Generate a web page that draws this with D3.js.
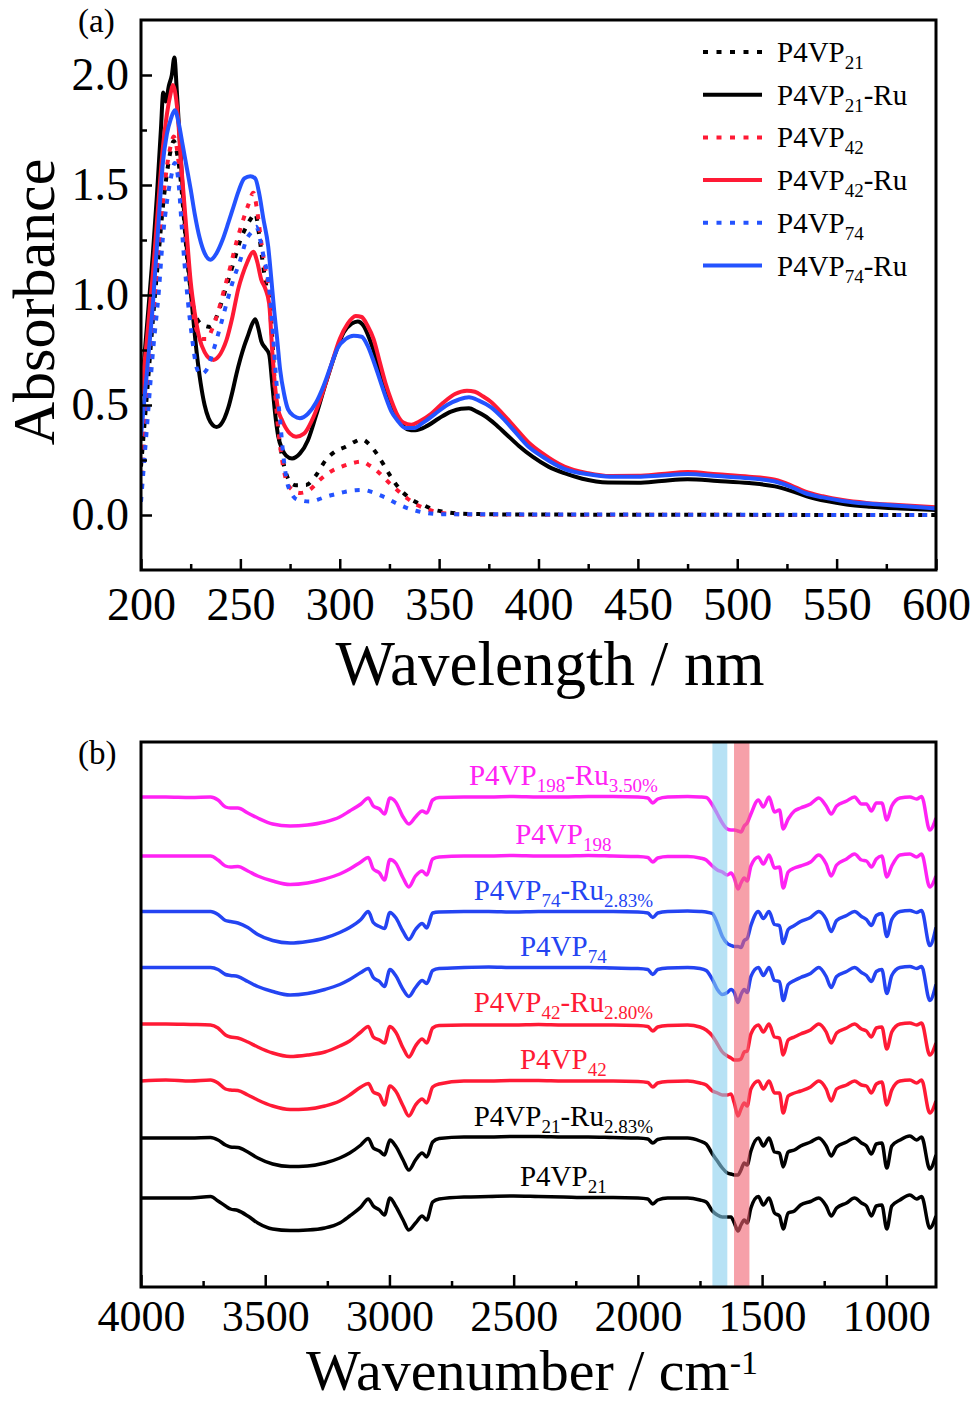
<!DOCTYPE html>
<html>
<head>
<meta charset="utf-8">
<script src="https://cdn.jsdelivr.net/npm/d3@7"></script>
<style>
    body { margin: 0; background: #fff; }
    svg { display: block; }
</style>
</head>
<body>
<svg id="chart" width="973" height="1404"></svg>
<script>

//  (a) UV-vis spectra, [wavelength / nm, absorbance]

const uvP4VP21 = [[200,0.22],[203,0.55],[206,0.89],[209,1.2],[211,1.4],[213,1.55],[215,1.66],[216.5,1.70],[218,1.65],[220,1.52],
    [221.5,1.36],[223,1.19],[225,1.02],[227,0.92],[229,0.88],[232,0.86],[235,0.855],[238,0.9],[241,0.98],[244,1.07],[247,1.16],
    [250,1.25],[253,1.31],[255.5,1.35],[257.5,1.37],[259.5,1.27],[261.5,1.13],[263.5,1.02],[265,0.96],[266.5,0.72],[268.5,0.43],
    [270.5,0.29],[272.5,0.205],[275,0.15],[278,0.135],[283,0.136],[288,0.18],[293,0.25],[298,0.29],[303,0.31],[308,0.335],
    [311,0.344],[315,0.32],[318.5,0.28],[322,0.23],[326,0.17],[330,0.12],[334,0.085],[338,0.06],[342,0.045],[347,0.025],
    [352,0.015],[358,0.008],[370,0.004],[400,0.002],[600,0]];

const uvP4VP21Ru = [[200,0.54],[203,0.86],[206,1.19],[208,1.45],[210,1.75],[211.2,1.92],[212.5,1.88],[214,1.95],[215.5,2.0],
    [216.8,2.08],[218,1.93],[219,1.78],[220.5,1.55],[222,1.33],[224,1.12],[226,0.92],[228,0.74],[230,0.6],[232,0.5],[234,0.44],
    [236,0.41],[238,0.40],[240,0.41],[242,0.44],[244,0.49],[246,0.56],[248,0.64],[250,0.71],[252,0.77],[254,0.82],[256,0.87],
    [257.5,0.89],[259,0.85],[260.5,0.79],[262.5,0.76],[264.5,0.73],[266,0.6],[267.5,0.46],[269,0.36],[271,0.30],[273,0.27],
    [276,0.257],[280,0.28],[284,0.34],[288,0.45],[293,0.60],[298,0.74],[302,0.83],[306,0.87],[309,0.88],[312,0.86],[315,0.8],
    [318,0.72],[321,0.63],[324,0.55],[327,0.48],[330,0.43],[334,0.39],[338,0.385],[344,0.405],[350,0.44],[356,0.47],
    [361,0.483],[365,0.485],[369,0.47],[373,0.45],[378,0.415],[384,0.365],[390,0.315],[397,0.265],[405,0.22],[413,0.19],
    [422,0.165],[435,0.148],[450,0.147],[462,0.155],[475,0.163],[490,0.155],[506,0.145],[519,0.13],[527,0.11],[535,0.085],
    [545,0.063],[555,0.048],[567,0.038],[582,0.03],[600,0.023]];

const uvP4VP42 = [[200,0.12],[203,0.5],[206,0.88],[209,1.22],[211,1.42],[213,1.58],[215,1.68],[216.5,1.72],[218,1.67],[220,1.5],
    [222,1.28],[224,1.08],[226,0.93],[228,0.84],[231,0.80],[233,0.80],[236,0.85],[239,0.93],[242,1.03],[245,1.13],[248,1.24],
    [251,1.33],[254,1.41],[256.5,1.465],[258.5,1.38],[260.5,1.24],[262.5,1.12],[264,1.04],[265.5,0.86],[267,0.62],[268.5,0.44],
    [270.5,0.28],[273,0.16],[276,0.115],[280,0.10],[285,0.115],[290,0.16],[296,0.2],[301,0.22],[306,0.235],[311,0.243],
    [315,0.225],[320,0.19],[325,0.145],[330,0.105],[334,0.075],[338,0.05],[343,0.03],[348,0.015],[355,0.006],[370,0.002],[600,0]];

const uvP4VP42Ru = [[200,0.55],[203,0.8],[206,1.10],[209,1.45],[211,1.67],[213,1.82],[215,1.92],[216,1.955],[217,1.93],
    [218.5,1.82],[220,1.62],[221.5,1.45],[223,1.28],[225,1.06],[227,0.92],[229.5,0.80],[232,0.74],[234,0.715],[236.5,0.705],
    [239,0.72],[241,0.75],[243,0.795],[246,0.90],[249,1.03],[251,1.09],[253.5,1.15],[256.5,1.197],[258.5,1.15],[260.5,1.07],
    [262.5,1.03],[264.5,0.96],[266,0.75],[267.5,0.58],[269,0.48],[271,0.43],[275,0.37],[278,0.356],[282,0.37],[286,0.43],
    [290,0.52],[295,0.66],[300,0.80],[304,0.87],[308,0.905],[311,0.90],[314,0.86],[317,0.80],[320,0.70],[323,0.60],[326,0.52],
    [329,0.455],[332,0.42],[336,0.41],[340,0.425],[346,0.46],[352,0.51],[358,0.55],[364,0.565],[368,0.56],[372,0.54],
    [376,0.515],[382,0.46],[388,0.40],[395,0.33],[402,0.28],[413,0.22],[425,0.19],[436,0.177],[450,0.178],[462,0.186],
    [475,0.195],[490,0.185],[506,0.174],[519,0.16],[527,0.135],[534,0.107],[543,0.085],[553,0.068],[565,0.055],[581,0.045],
    [600,0.035]];

const uvP4VP74 = [[200,0.06],[203,0.40],[206,0.74],[209,1.02],[211,1.26],[213,1.42],[215,1.53],[217,1.60],[219,1.50],
    [220.5,1.31],[222,1.13],[223.5,0.98],[225.5,0.82],[228,0.67],[230,0.64],[233,0.66],[236.5,0.75],[240,0.86],[243,0.96],
    [246.5,1.07],[250,1.16],[253,1.25],[256,1.29],[258,1.31],[260,1.25],[262,1.16],[263.5,1.10],[265,0.98],[266.5,0.81],
    [268,0.62],[270,0.43],[271.5,0.28],[273.5,0.15],[275.5,0.1],[277.5,0.076],[281,0.065],[285,0.061],[289,0.07],[293,0.083],
    [298,0.095],[303,0.106],[308,0.113],[312,0.114],[316,0.105],[320,0.091],[324,0.075],[328.5,0.053],[333,0.035],[338,0.02],
    [343,0.01],[350,0.004],[600,0]];

const uvP4VP74Ru = [[200,0.36],[203,0.65],[206,0.96],[209,1.35],[211,1.6],[213,1.73],[215,1.80],[217,1.84],[219,1.78],
    [221,1.68],[223,1.58],[225,1.48],[227,1.37],[229.5,1.26],[232,1.19],[235,1.16],[238,1.19],[241,1.25],[244,1.33],
    [246.5,1.40],[249,1.47],[252,1.53],[255,1.54],[257.5,1.53],[259.5,1.46],[261.5,1.35],[264,1.22],[265.5,1.08],[267,0.93],
    [268.5,0.80],[270,0.66],[272,0.55],[274,0.48],[277,0.45],[280,0.44],[284,0.46],[288,0.51],[292,0.59],[296,0.69],
    [299,0.76],[303,0.80],[307,0.815],[311,0.81],[314,0.77],[317,0.70],[320,0.62],[323,0.54],[326,0.47],[329,0.43],
    [333,0.395],[337,0.395],[342,0.42],[348,0.46],[354,0.50],[360,0.525],[365,0.535],[370,0.52],[376,0.49],[382,0.44],
    [388,0.38],[395,0.31],[402,0.265],[413,0.21],[425,0.185],[436,0.174],[450,0.174],[462,0.18],[475,0.186],[490,0.177],
    [506,0.167],[519,0.152],[527,0.128],[534,0.10],[543,0.08],[553,0.064],[565,0.052],[581,0.042],[600,0.03]];

const uvSeries = [uvP4VP21, uvP4VP21Ru, uvP4VP42, uvP4VP42Ru, uvP4VP74, uvP4VP74Ru];
const uvNames = ["P4VP|21", "P4VP|21|-Ru", "P4VP|42", "P4VP|42|-Ru", "P4VP|74", "P4VP|74|-Ru"];
const uvTicks = [200, 250, 300, 350, 400, 450, 500, 550, 600];
const uvMinorTicks = [225, 275, 325, 375, 425, 475, 525, 575];
const absTicks = [0, 0.5, 1.0, 1.5, 2.0];
const absMinorTicks = [0.25, 0.75, 1.25, 1.75];

//  (b) FTIR spectra: shared wavenumber grid / cm-1, and each trace's
//  absorption depth (a.u.) below its own stacking offset

const irWavenumbers = [
    4000, 3900, 3800, 3720, 3690, 3660, 3640, 3610, 3570, 3530,
    3470, 3400, 3330, 3260, 3200, 3160, 3115, 3085, 3065, 3040,
    3020, 2998, 2975, 2945, 2922, 2895, 2868, 2850, 2826, 2800,
    2700, 2600, 2500, 2400, 2300, 2200, 2100, 2000, 1960, 1940,
    1920, 1880, 1800, 1750, 1725, 1700, 1680, 1660, 1640, 1625,
    1612, 1597, 1585, 1572, 1560, 1545, 1515, 1495, 1472, 1450,
    1430, 1415, 1395, 1370, 1345, 1305, 1272, 1242, 1222, 1200,
    1160, 1128, 1100, 1080, 1060, 1040, 1018, 998, 978, 945,
    905, 878, 858, 825, 800];

const irP4VP198Ru = [
    0, 0, 0.1, 0, 0.6, 2.0, 2.2, 2.2, 3.2, 4.2,
    5.4, 5.8, 5.6, 5.0, 4.0, 2.8, 1.4, 0.2, 1.8, 2.4,
    3.4, 0.2, 1.0, 4.0, 5.4, 4.0, 2.8, 3.2, 0.6, 0.1,
    0, 0, -0.1, 0, 0, -0.1, -0.1, 0, 0.2, 1.2,
    0.4, 0, -0.1, 0, 0.1, 1.6, 3.4, 5.2, 6.4, 6.6,
    6.6, 6.8, 7.0, 5.8, 5.2, 3.4, 0.6, 2.0, 0, 3.0,
    2.6, 6.4, 4.4, 2.8, 2.2, 1.4, 0.2, 1.8, 3.4, 1.8,
    0.8, 0, 1.4, 1.4, 2.8, 1.2, 1.2, 4.6, 1.8, 0.2,
    0, 0.4, -0.1, 6.6, 4.2];

const irP4VP198 = [
    0, 0, 0, 0, 0.8, 2.0, 2.2, 2.1, 3.0, 4.0,
    5.0, 5.7, 5.4, 4.6, 3.6, 2.6, 1.2, 0.3, 2.6, 3.4,
    4.8, 0.7, 1.4, 4.4, 6.2, 4.0, 3.0, 3.8, 0.6, 0.2,
    0, 0, -0.1, 0, 0, -0.1, 0, 0.1, 0.3, 1.2,
    0.4, 0.1, 0.1, 0.4, 0.8, 2.0, 2.8, 3.2, 3.8, 3.4,
    4.4, 6.6, 5.4, 4.4, 5.0, 2.0, 0.2, 1.6, -0.2, 2.4,
    2.2, 6.4, 3.2, 2.4, 2.0, 1.2, -0.2, 1.6, 4.0, 1.8,
    0.6, -0.4, 0.8, 1.0, 2.2, 0.6, 0, 4.2, 2.0, -0.2,
    -0.4, 0.2, -0.4, 6.2, 4.0];

const irP4VP74Ru = [
    0, 0, 0, 0, 0.6, 1.8, 2.0, 2.3, 3.2, 4.6,
    5.8, 6.3, 6.0, 5.3, 4.2, 3.2, 1.6, 0, 2.2, 3.0,
    3.4, 0.2, 1.2, 4.0, 5.6, 3.6, 2.4, 3.3, 0.3, 0.1,
    0, 0, 0.1, 0, 0, 0, 0, 0.1, 0.3, 1.2,
    0.3, 0, -0.1, 0, 0.1, 0.4, 2.4, 5.0, 6.4, 6.8,
    7.0, 7.0, 7.2, 5.8, 5.4, 2.8, 0, 1.4, 0, 2.6,
    2.8, 6.4, 3.6, 2.8, 2.0, 1.2, 0, 1.6, 4.0, 1.8,
    0.8, 0, 1.0, 1.6, 2.8, 0.8, 0.4, 5.0, 1.6, 0,
    -0.2, 0.2, -0.2, 6.8, 3.2];

const irP4VP74 = [
    0, 0, 0, 0, 0.4, 1.4, 1.6, 1.8, 2.8, 3.8,
    4.8, 5.5, 5.2, 4.4, 3.4, 2.4, 1.0, 0.2, 2.0, 2.8,
    3.8, 0.4, 1.6, 4.4, 5.8, 4.0, 2.6, 3.2, 0.6, 0.2,
    0, -0.1, 0, 0, 0, 0, 0.1, 0.2, 0.4, 1.4,
    0.4, 0.1, 0, 0.2, 0.6, 2.4, 4.4, 5.4, 5.0, 4.4,
    5.0, 7.0, 5.4, 4.4, 5.0, 1.8, 0, 1.6, 0, 2.6,
    2.8, 6.6, 3.4, 2.6, 2.0, 1.2, 0, 1.8, 4.0, 1.8,
    0.8, 0, 1.0, 1.6, 2.8, 0.8, 0.4, 5.2, 1.6, 0,
    -0.2, 0.2, -0.2, 6.6, 3.4];

const irP4VP42Ru = [
    0, 0, 0.1, 0.2, 0.8, 2.2, 2.6, 2.8, 3.6, 4.6,
    5.8, 6.5, 6.2, 5.6, 4.4, 3.4, 1.6, 0.5, 2.6, 3.2,
    3.8, 0.5, 1.6, 4.8, 6.6, 4.4, 3.0, 3.8, 0.8, 0.3,
    0.2, 0.2, 0.2, 0.1, 0.2, 0.2, 0.2, 0.3, 0.5, 1.4,
    0.6, 0.3, 0.2, 0.6, 1.2, 2.4, 4.0, 5.6, 6.4, 6.8,
    7.2, 7.2, 7.0, 5.6, 5.4, 2.0, 0.2, 1.6, 0, 2.6,
    2.8, 6.2, 3.2, 2.6, 2.0, 1.2, 0, 1.6, 3.8, 1.8,
    0.8, 0, 1.0, 1.4, 2.6, 0.8, 0.6, 5.0, 1.6, 0,
    -0.2, 0.2, -0.2, 6.2, 3.8];

const irP4VP42 = [
    0, -0.2, 0, -0.2, 0.4, 1.6, 1.8, 1.9, 2.8, 3.8,
    5.0, 5.7, 5.6, 5.0, 4.0, 2.8, 1.2, 0.5, 2.2, 2.8,
    4.8, 1.0, 2.0, 5.0, 7.0, 4.8, 3.6, 4.4, 1.2, 0.6,
    0, 0, -0.1, -0.1, 0, 0, 0, 0.1, 0.3, 1.2,
    0.4, 0.1, 0, 0.4, 0.8, 2.0, 2.4, 2.8, 2.8, 2.6,
    4.4, 7.0, 5.6, 4.4, 5.0, 1.6, 0, 1.6, 0, 2.4,
    2.4, 6.4, 3.0, 2.4, 2.0, 1.2, 0, 1.6, 4.0, 1.6,
    0.8, 0, 0.8, 1.0, 2.4, 0.6, 0.2, 4.8, 1.8, 0,
    -0.2, 0.4, -0.2, 6.4, 4.0];

const irP4VP21Ru = [
    0, 0, 0, -0.1, 0.4, 1.4, 1.8, 1.9, 2.8, 4.0,
    5.2, 5.7, 5.6, 5.0, 4.0, 3.0, 1.4, 0.1, 2.0, 2.6,
    3.4, 0.4, 1.6, 4.4, 6.4, 4.4, 3.0, 3.8, 0.8, 0.1,
    -0.2, -0.2, -0.3, -0.3, -0.2, -0.2, -0.1, 0, 0.2, 1.0,
    0.3, 0, 0, 0.6, 1.2, 3.2, 4.6, 6.0, 7.0, 7.2,
    7.4, 7.4, 6.4, 5.0, 5.4, 2.6, 0, 1.6, 0, 2.8,
    3.0, 5.8, 2.8, 2.4, 1.6, 0.8, 0, 1.6, 3.6, 1.8,
    0.8, 0, 1.0, 1.6, 3.2, 1.2, 1.0, 6.0, 1.6, 0.4,
    -0.4, 0.4, -0.2, 6.2, 3.4];

const irP4VP21 = [
    0, 0, 0, -0.3, 0.6, 1.6, 2.2, 2.5, 3.6, 5.0,
    6.2, 6.5, 6.4, 6.0, 5.0, 3.6, 1.8, 0.2, 1.6, 2.4,
    3.4, 0, 1.6, 4.4, 6.4, 5.0, 3.6, 4.4, 0.8, 0.2,
    -0.2, -0.3, -0.4, -0.3, -0.2, -0.1, -0.1, 0, 0.2, 1.2,
    0.4, 0, 0, 0.4, 0.8, 2.6, 3.4, 3.8, 3.8, 3.8,
    5.0, 6.6, 5.4, 4.4, 5.0, 2.0, -0.3, 1.4, 0, 3.0,
    3.6, 6.2, 3.0, 2.6, 1.4, 0.7, 0, 1.6, 3.6, 2.0,
    1.0, 0, 1.0, 1.6, 3.6, 1.6, 1.4, 6.2, 1.6, 0.4,
    -0.6, 0.2, -0.3, 6.0, 3.6];

const irSeries = [irP4VP198Ru, irP4VP198, irP4VP74Ru, irP4VP74, irP4VP42Ru, irP4VP42, irP4VP21Ru, irP4VP21];
const irOffsets = [98, 86.2, 75.1, 63.9, 52.6, 41.2, 29.8, 17.8];
const irNames = ["P4VP|198|-Ru|3.50%", "P4VP|198", "P4VP|74|-Ru|2.83%", "P4VP|74",
    "P4VP|42|-Ru|2.80%", "P4VP|42", "P4VP|21|-Ru|2.83%", "P4VP|21"];
const irBands = [[1700, 1640], [1613, 1551]];
const irTicks = [4000, 3500, 3000, 2500, 2000, 1500, 1000];
const irMinorTicks = [3750, 3250, 2750, 2250, 1750, 1250];


//  look

const serif = '"Liberation Serif", "Times New Roman", serif';
const uvColors = ["#000000", "#000000", "#ff1a35", "#ff1a35", "#2453ff", "#2453ff"];
const uvDashed = [true, false, true, false, true, false];
const irColors = ["#ff22f4", "#ff22f4", "#2444f2", "#2444f2", "#ff1a35", "#ff1a35", "#000000", "#000000"];
const bandColors = ["#87cfee", "#f06070"];

const plotLeft = 141, plotRight = 936;
const aTop = 20, aBottom = 570;
const bTop = 742, bBottom = 1287;

const svg = d3.select("#chart").attr("font-family", serif);

const xA = d3.scaleLinear().domain([200, 600]).range([plotLeft, plotRight]);
const yA = d3.scaleLinear().domain([-0.25, 2.25]).range([aBottom, aTop]);
const xB = d3.scaleLinear().domain([4000, 800]).range([plotLeft, plotRight]);
const yB = d3.scaleLinear().domain([0, 109]).range([bBottom, bTop]);

//  label with alternating normal / subscript parts, split by "|"
function richText(sel, label, size, subSize, shift) {
    label.split("|").forEach((part, i) => {
        const isSub = i % 2 === 1;
        sel.append("tspan")
            .attr("font-size", isSub ? subSize : size)
            .attr("dy", i === 0 ? 0 : (isSub ? shift : -shift))
            .text(part);
    });
}

function styleAxis(g, fontSize) {
    g.select(".domain").remove();
    g.attr("font-family", serif).attr("font-size", fontSize);
    g.selectAll(".tick line").attr("stroke", "#000").attr("stroke-width", 2.5);
    g.selectAll(".tick text").attr("fill", "#000");
}

const defs = svg.append("defs");
defs.append("clipPath").attr("id", "clipA").append("rect")
    .attr("x", plotLeft).attr("y", aTop).attr("width", plotRight - plotLeft).attr("height", aBottom - aTop);
defs.append("clipPath").attr("id", "clipB").append("rect")
    .attr("x", plotLeft).attr("y", bTop).attr("width", plotRight - plotLeft).attr("height", bBottom - bTop);


//  ---------- panel (a) ----------

const uvLine = d3.line()
    .x(d => xA(d[0]))
    .y(d => yA(d[1]))
    .curve(d3.curveMonotoneX);

const curvesA = svg.append("g").attr("clip-path", "url(#clipA)");
uvSeries.forEach((s, i) => {
    curvesA.append("path")
        .attr("d", uvLine(s))
        .attr("fill", "none")
        .attr("stroke", uvColors[i])
        .attr("stroke-width", 4)
        .attr("stroke-linejoin", "round")
        .attr("stroke-dasharray", uvDashed[i] ? "5,8" : null);
});

const xAxisA = svg.append("g").attr("transform", `translate(0,${aBottom})`)
    .call(d3.axisBottom(xA).tickValues(uvTicks).tickSize(-11).tickPadding(17).tickFormat(d3.format("d")));
styleAxis(xAxisA, 46);
const xMinorA = svg.append("g").attr("transform", `translate(0,${aBottom})`)
    .call(d3.axisBottom(xA).tickValues(uvMinorTicks).tickSize(-6).tickFormat(""));
styleAxis(xMinorA, 10);

const yAxisA = svg.append("g").attr("transform", `translate(${plotLeft},0)`)
    .call(d3.axisLeft(yA).tickValues(absTicks).tickSize(-11).tickPadding(12).tickFormat(d3.format(".1f")));
styleAxis(yAxisA, 46);
const yMinorA = svg.append("g").attr("transform", `translate(${plotLeft},0)`)
    .call(d3.axisLeft(yA).tickValues(absMinorTicks).tickSize(-6).tickFormat(""));
styleAxis(yMinorA, 10);

svg.append("rect")
    .attr("x", plotLeft).attr("y", aTop)
    .attr("width", plotRight - plotLeft).attr("height", aBottom - aTop)
    .attr("fill", "none").attr("stroke", "#000").attr("stroke-width", 3);

//  legend
const legend = svg.append("g");
uvNames.forEach((name, i) => {
    const ly = 52 + i * 42.7;
    legend.append("line")
        .attr("x1", 703).attr("x2", 762).attr("y1", ly).attr("y2", ly)
        .attr("stroke", uvColors[i]).attr("stroke-width", 4)
        .attr("stroke-dasharray", uvDashed[i] ? "5,8.5" : null);
    const t = legend.append("text").attr("x", 777).attr("y", ly + 10).attr("fill", "#000");
    richText(t, name, 29, 19, 7);
});

svg.append("text").attr("x", 550).attr("y", 685).attr("text-anchor", "middle")
    .attr("font-size", 63).text("Wavelength / nm");
svg.append("text").attr("transform", "translate(54,302) rotate(-90)").attr("text-anchor", "middle")
    .attr("font-size", 60).text("Absorbance");
svg.append("text").attr("x", 78).attr("y", 32).attr("font-size", 33).text("(a)");


//  ---------- panel (b) ----------

const curvesB = svg.append("g").attr("clip-path", "url(#clipB)");
irSeries.forEach((depth, i) => {
    const irLine = d3.line()
        .x((d, k) => xB(irWavenumbers[k]))
        .y(d => yB(irOffsets[i] - d))
        .curve(d3.curveMonotoneX);
    curvesB.append("path")
        .attr("d", irLine(depth))
        .attr("fill", "none")
        .attr("stroke", irColors[i])
        .attr("stroke-width", 3.5)
        .attr("stroke-linejoin", "round");
});

//  highlighted bands, over the traces
irBands.forEach((b, i) => {
    curvesB.append("rect")
        .attr("x", xB(b[0])).attr("width", xB(b[1]) - xB(b[0]))
        .attr("y", bTop).attr("height", bBottom - bTop)
        .attr("fill", bandColors[i]).attr("fill-opacity", 0.6);
});

irNames.forEach((name, i) => {
    const t = svg.append("text")
        .attr("x", xB(2300)).attr("y", yB(irOffsets[i] + 2.4))
        .attr("text-anchor", "middle")
        .attr("fill", irColors[i]);
    richText(t, name, 29, 19, 7);
});

const xAxisB = svg.append("g").attr("transform", `translate(0,${bBottom})`)
    .call(d3.axisBottom(xB).tickValues(irTicks).tickSize(-12).tickPadding(13).tickFormat(d3.format("d")));
styleAxis(xAxisB, 44);
const xMinorB = svg.append("g").attr("transform", `translate(0,${bBottom})`)
    .call(d3.axisBottom(xB).tickValues(irMinorTicks).tickSize(-6).tickFormat(""));
styleAxis(xMinorB, 10);

svg.append("rect")
    .attr("x", plotLeft).attr("y", bTop)
    .attr("width", plotRight - plotLeft).attr("height", bBottom - bTop)
    .attr("fill", "none").attr("stroke", "#000").attr("stroke-width", 3);

const xTitleB = svg.append("text").attr("x", 306).attr("y", 1390).attr("font-size", 58);
xTitleB.append("tspan").text("Wavenumber / cm");
xTitleB.append("tspan").attr("font-size", 34).attr("dy", -16).text("-1");
svg.append("text").attr("x", 78).attr("y", 764).attr("font-size", 33).text("(b)");

</script>
</body>
</html>
